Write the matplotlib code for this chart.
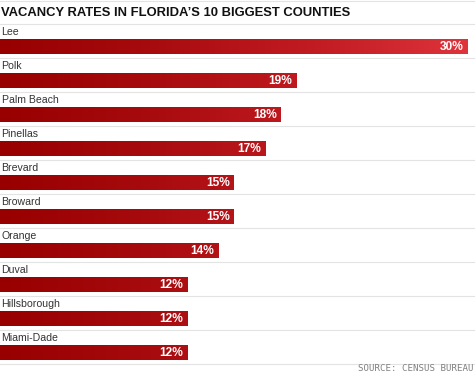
import numpy as np
import matplotlib
matplotlib.use("Agg")
import matplotlib.pyplot as plt
from matplotlib.colors import LinearSegmentedColormap

counties = ["Lee", "Polk", "Palm Beach", "Pinellas", "Brevard", "Broward",
            "Orange", "Duval", "Hillsborough", "Miami-Dade"]
rates = [30, 19, 18, 17, 15, 15, 14, 12, 12, 12]
value_labels = ["30%", "19%", "18%", "17%", "15%", "15%", "14%", "12%", "12%", "12%"]
title = "VACANCY RATES IN FLORIDA\u2019S 10 BIGGEST COUNTIES"
source = "SOURCE: CENSUS BUREAU"

W, H, DPI = 475, 372, 100
fig = plt.figure(figsize=(W / DPI, H / DPI), dpi=DPI)
ax = fig.add_axes([0, 0, 1, 1])
ax.set_axis_off()

px_per_unit = 15.6  # pixels per percent
xmax = W / px_per_unit
pitch = 34.0
y0 = 46.5
ax.set_xlim(0, xmax)
ax.set_ylim((H - y0) / pitch, (0 - y0) / pitch)

def px_x(p):
    return p / px_per_unit

def px_y(p):
    return p / pitch

cmap = LinearSegmentedColormap.from_list(
    "red", [(0.0, "#980000"), (0.3, "#a60a0c"), (0.7, "#c41d24"), (1.0, "#de343b")])
grad = np.linspace(0, 1, 256).reshape(1, -1)

bar_h = px_y(15)
line_color = "#e3e3e3"
for yy in [px_y(1 - y0), px_y(24 - y0)]:
    ax.axhline(yy, color=line_color, lw=0.8)
for i, (c, r, lab) in enumerate(zip(counties, rates, value_labels)):
    bars = ax.barh(i, r, height=bar_h, left=0, color="none", edgecolor="none")
    patch = bars[0]
    im = ax.imshow(grad, cmap=cmap, aspect="auto",
                   extent=[0, 30.0, i + bar_h / 2, i - bar_h / 2], zorder=2)
    im.set_clip_path(patch)
    ax.text(px_x(1.5), i - bar_h / 2 - px_y(2), c, ha="left", va="bottom",
            fontsize=7.6, color="#333333", family="Liberation Sans")
    ax.text(r - px_x(4), i + px_y(0.5), lab, ha="right", va="center",
            fontsize=8.6, fontweight="bold", color="white", family="Liberation Sans", zorder=3)
    ax.axhline(i + bar_h / 2 + px_y(4), color=line_color, lw=0.8)

ax.text(px_x(1), px_y(13 - y0), title, ha="left", va="center", fontsize=9.4,
        fontweight="bold", color="#111111", family="Liberation Sans")
ax.text(px_x(473), px_y(368.5 - y0), source, ha="right", va="center", fontsize=6.6,
        color="#808080", family="DejaVu Sans Mono")

fig.savefig("out.png", dpi=DPI)
